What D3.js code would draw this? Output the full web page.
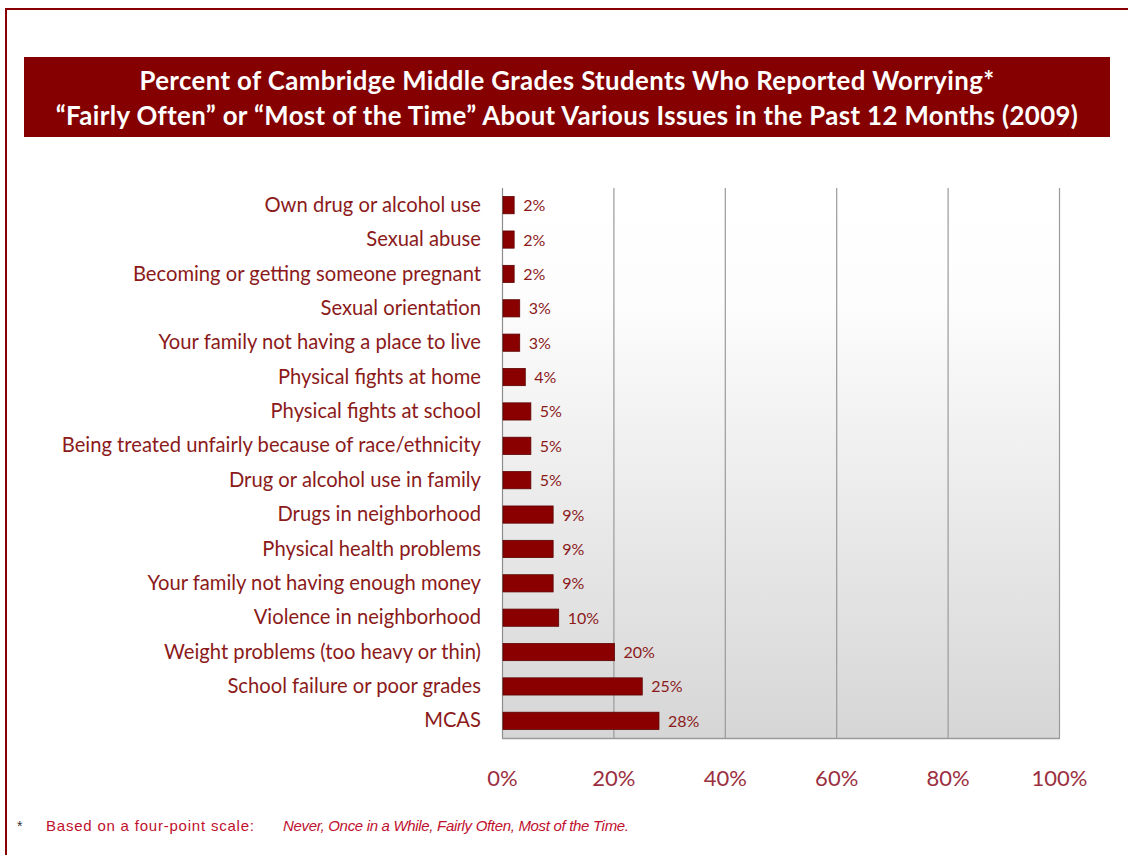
<!DOCTYPE html>
<html>
<head>
<meta charset="utf-8">
<script src="https://cdn.jsdelivr.net/npm/d3@7"></script>
<style>
  html, body { margin: 0; padding: 0; background: #fff; }
  svg { display: block; }
</style>
</head>
<body>
<svg id="chart" width="1128" height="855"></svg>
<script>
// Worry topics, top to bottom
const categories = [
  "Own drug or alcohol use",
  "Sexual abuse",
  "Becoming or getting someone pregnant",
  "Sexual orientation",
  "Your family not having a place to live",
  "Physical fights at home",
  "Physical fights at school",
  "Being treated unfairly because of race/ethnicity",
  "Drug or alcohol use in family",
  "Drugs in neighborhood",
  "Physical health problems",
  "Your family not having enough money",
  "Violence in neighborhood",
  "Weight problems (too heavy or thin)",
  "School failure or poor grades",
  "MCAS"
];
// Percent reporting worry "Fairly Often" or "Most of the Time"
const values = [2, 2, 2, 3, 3, 4, 5, 5, 5, 9, 9, 9, 10, 20, 25, 28];
const xTicks = [0, 20, 40, 60, 80, 100];
const titleLines = [
  "Percent of Cambridge Middle Grades Students Who Reported Worrying*",
  "\u201CFairly Often\u201D or \u201CMost of the Time\u201D About Various Issues in the Past 12 Months (2009)"
];

const svg = d3.select("#chart");
const W = 1128, H = 855;
const maroon = "#8a0000";
const labelColor = "#8b1a1a";
const font = "Lato, 'Open Sans', sans-serif";

// page frame
svg.append("path")
  .attr("d", `M6,${H} V9 H${W}`)
  .attr("fill", "none")
  .attr("stroke", maroon)
  .attr("stroke-width", 2);

// title banner
svg.append("rect")
  .attr("x", 24).attr("y", 57).attr("width", 1086).attr("height", 80)
  .attr("fill", "#850000");
svg.append("g").selectAll("text").data(titleLines).join("text")
  .attr("x", 567)
  .attr("y", (d, i) => 90 + i * 35)
  .attr("text-anchor", "middle")
  .attr("fill", "#fff")
  .attr("font-family", font)
  .attr("font-weight", 700)
  .attr("font-size", 25.8)
  .attr("letter-spacing", 0.38)
  .text(d => d);

// scales
const x = d3.scaleLinear().domain([0, 100]).range([502, 1059]);
const y = d3.scaleBand().domain(categories).range([188, 738]).paddingInner(0.5).paddingOuter(0.25);

// plot background: white at top fading to light grey
const defs = svg.append("defs");
const grad = defs.append("linearGradient").attr("id", "plotBg")
  .attr("x1", 0).attr("y1", 0).attr("x2", 0).attr("y2", 1);
grad.append("stop").attr("offset", "0%").attr("stop-color", "#ffffff");
grad.append("stop").attr("offset", "20%").attr("stop-color", "#fdfdfd");
grad.append("stop").attr("offset", "100%").attr("stop-color", "#d6d6d6");

svg.append("rect")
  .attr("x", x(0)).attr("y", 188)
  .attr("width", x(100) - x(0)).attr("height", 550)
  .attr("fill", "url(#plotBg)");

// vertical gridlines + frame edges
svg.append("g").selectAll("line").data(xTicks).join("line")
  .attr("x1", d => x(d) + 0.5).attr("x2", d => x(d) + 0.5)
  .attr("y1", 188).attr("y2", 738)
  .attr("stroke", d => d === 0 ? "#8c8c8c" : "#9a9a9a")
  .attr("stroke-width", 1.2);
svg.append("line")
  .attr("x1", x(0)).attr("x2", x(100) + 1)
  .attr("y1", 738.5).attr("y2", 738.5)
  .attr("stroke", "#9a9a9a").attr("stroke-width", 1.5);

// bars
svg.append("g").selectAll("rect").data(values).join("rect")
  .attr("x", x(0) + 1)
  .attr("y", (d, i) => y(categories[i]))
  .attr("width", d => x(d) - x(0))
  .attr("height", y.bandwidth())
  .attr("fill", maroon)
  .attr("stroke", "#5c0000")
  .attr("stroke-width", 0.8);

// value labels
svg.append("g").selectAll("text").data(values).join("text")
  .attr("x", d => x(d) + 10)
  .attr("y", (d, i) => y(categories[i]) + y.bandwidth() / 2 + 6)
  .attr("fill", labelColor)
  .attr("font-family", font)
  .attr("font-size", 16)
  .text(d => d + "%");

// category labels
const yAxis = d3.axisLeft(y).tickSize(0).tickPadding(21);
const gy = svg.append("g").attr("transform", `translate(${x(0)},0)`).call(yAxis);
gy.select(".domain").remove();
gy.selectAll("text")
  .attr("fill", labelColor)
  .attr("font-family", font)
  .attr("font-size", 20.2)
  .attr("dy", "0.33em");

// x tick labels
const xAxis = d3.axisBottom(x).tickValues(xTicks).tickFormat(d => d + "%").tickSize(0).tickPadding(0);
const gx = svg.append("g").attr("transform", `translate(0,766)`).call(xAxis);
gx.select(".domain").remove();
gx.selectAll("text")
  .attr("fill", "#9b2f3f")
  .attr("font-family", font)
  .attr("font-size", 22)
  .attr("dy", "0.9em");

// footnote
const noteFont = "'Liberation Sans', Arial, sans-serif";
svg.append("text")
  .attr("x", 17).attr("y", 831)
  .attr("fill", "#333")
  .attr("font-family", noteFont)
  .attr("font-size", 14)
  .text("*");
svg.append("text")
  .attr("x", 46).attr("y", 831)
  .attr("fill", "#c0102e")
  .attr("font-family", noteFont)
  .attr("font-size", 15)
  .attr("textLength", 208)
  .attr("lengthAdjust", "spacing")
  .text("Based on a four-point scale:");
svg.append("text")
  .attr("x", 283).attr("y", 831)
  .attr("fill", "#c0102e")
  .attr("font-family", noteFont)
  .attr("font-size", 15)
  .attr("font-style", "italic")
  .attr("textLength", 346)
  .attr("lengthAdjust", "spacing")
  .text("Never, Once in a While, Fairly Often, Most of the Time.");
</script>
</body>
</html>
